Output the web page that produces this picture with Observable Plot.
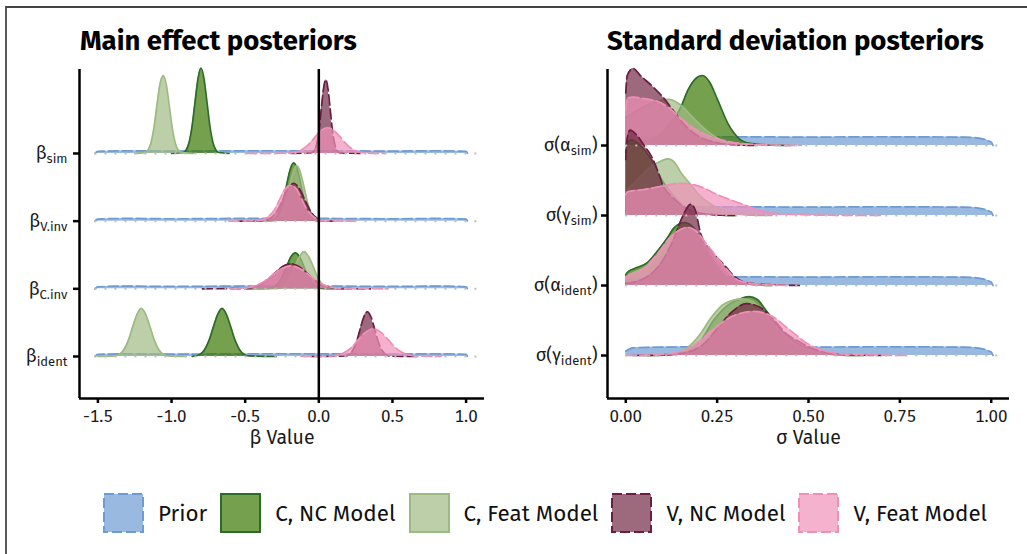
<!DOCTYPE html>
<html>
<head>
<meta charset="utf-8">
<script src="https://cdn.jsdelivr.net/npm/d3@7"></script>
<script src="https://cdn.jsdelivr.net/npm/@observablehq/plot@0.6"></script>
<style>
  html, body { margin: 0; padding: 0; background: #fff; }
  #wrap { position: relative; width: 1027px; height: 554px; overflow: hidden; background: #fff;
          font-family: "Fira Sans", "Open Sans", sans-serif; color: #111; }
  .frame { position: absolute; left: 5px; top: 6px; width: 1100px; height: 600px;
           border-left: 2px solid #5a5a5a; border-top: 2px solid #444; }
  .title { position: absolute; font-weight: 700; font-size: 27.5px; line-height: 1; white-space: nowrap; color: #000; }
  .panel { position: absolute; top: 0; }
  #legend { position: absolute; left: 103px; top: 493px; height: 40px; display: flex; align-items: center; }
  #legend .item { display: flex; align-items: center; margin-right: 13px; }
  #legend svg { display: block; margin-right: 14px; }
  #legend span { font-size: 22.4px; white-space: nowrap; color: #111; }
</style>
</head>
<body>
<div id="wrap">
  <div class="frame"></div>
  <div class="title" style="left:80px;top:27px">Main effect posteriors</div>
  <div class="title" style="left:607px;top:27px">Standard deviation posteriors</div>
  <div class="panel" id="left" style="left:0px"></div>
  <div class="panel" id="right" style="left:500px"></div>
  <div id="legend"></div>
</div>
<script>
// ---------------- data ----------------
const seriesNames  = ["Prior", "C, NC Model", "C, Feat Model", "V, NC Model", "V, Feat Model"];
const seriesFill   = ["#6f9bd3", "#3b7702", "#9fba84", "#742a45", "#f192ba"];
const seriesStroke = ["#6f9bd3", "#2e6b2a", "#9cbb80", "#6b1d42", "#ef8fb8"];
const seriesDash   = ["10,4", null, null, "10,4", "10,4"];

// row labels, top to bottom
const betaLabelMain = ["β", "β", "β", "β"];
const betaLabelSub  = ["sim", "V.inv", "C.inv", "ident"];
const sigmaLabelPre = ["σ(α", "σ(γ", "σ(α", "σ(γ"];
const sigmaLabelSub = ["sim", "sim", "ident", "ident"];
const sigmaLabelPost = [")", ")", ")", ")"];

const betaTicks  = [-1.5, -1.0, -0.5, 0.0, 0.5, 1.0];
const sigmaTicks = [0, 0.25, 0.5, 0.75, 1.0];

// densities: [x, height in row units], rows top -> bottom
const betaPrior = [
  [[-1.52,0],[-1.5,0.03],[-1.3,0.04],[-1.0,0.035],[-0.5,0.04],[0,0.04],[0.5,0.035],[0.8,0.04],[1.0,0.03],[1.01,0]],
  [[-1.52,0],[-1.5,0.03],[-1.3,0.04],[-1.0,0.035],[-0.5,0.04],[0,0.04],[0.5,0.035],[0.8,0.04],[1.0,0.03],[1.01,0]],
  [[-1.52,0],[-1.5,0.03],[-1.3,0.04],[-1.0,0.035],[-0.5,0.04],[0,0.04],[0.5,0.035],[0.8,0.04],[1.0,0.03],[1.01,0]],
  [[-1.52,0],[-1.5,0.03],[-1.3,0.04],[-1.0,0.035],[-0.5,0.04],[0,0.04],[0.5,0.035],[0.8,0.04],[1.0,0.03],[1.01,0]]
];
const betaCNC = [
  [[-1.0,0],[-0.92,0.014],[-0.90,0.055],[-0.88,0.17],[-0.86,0.41],[-0.84,0.77],[-0.82,1.11],[-0.80,1.26],[-0.78,1.11],[-0.76,0.77],[-0.74,0.41],[-0.72,0.17],[-0.70,0.055],[-0.68,0.014],[-0.61,0]],
  [[-0.5,0],[-0.32,0.009],[-0.295,0.038],[-0.27,0.12],[-0.245,0.28],[-0.22,0.52],[-0.195,0.76],[-0.17,0.86],[-0.145,0.76],[-0.12,0.52],[-0.095,0.28],[-0.07,0.12],[-0.045,0.038],[-0.02,0.009],[0.1,0]],
  [[-0.5,0],[-0.34,0.006],[-0.31,0.023],[-0.28,0.07],[-0.25,0.17],[-0.22,0.32],[-0.19,0.47],[-0.16,0.53],[-0.13,0.47],[-0.10,0.32],[-0.07,0.17],[-0.04,0.07],[-0.01,0.023],[0.02,0.006],[0.15,0]],
  [[-0.86,0],[-0.837,0.008],[-0.807,0.031],[-0.777,0.096],[-0.747,0.23],[-0.717,0.43],[-0.687,0.62],[-0.657,0.71],[-0.627,0.62],[-0.597,0.43],[-0.567,0.23],[-0.537,0.096],[-0.507,0.031],[-0.477,0.008],[-0.29,0]]
];
const betaCFeat = [
  [[-1.25,0],[-1.18,0.013],[-1.16,0.05],[-1.14,0.155],[-1.12,0.37],[-1.10,0.70],[-1.08,1.01],[-1.056,1.15],[-1.035,1.01],[-1.015,0.70],[-0.995,0.37],[-0.975,0.155],[-0.955,0.05],[-0.93,0.013],[-0.85,0]],
  [[-0.45,0],[-0.30,0.009],[-0.275,0.036],[-0.25,0.11],[-0.225,0.26],[-0.2,0.5],[-0.175,0.72],[-0.15,0.82],[-0.125,0.72],[-0.1,0.5],[-0.075,0.26],[-0.05,0.11],[-0.025,0.036],[0,0.009],[0.12,0]],
  [[-0.45,0],[-0.28,0.006],[-0.25,0.024],[-0.22,0.074],[-0.19,0.18],[-0.16,0.34],[-0.13,0.48],[-0.10,0.55],[-0.07,0.48],[-0.04,0.34],[-0.01,0.18],[0.02,0.074],[0.05,0.024],[0.08,0.006],[0.2,0]],
  [[-1.5,0],[-1.385,0.008],[-1.355,0.031],[-1.325,0.096],[-1.295,0.23],[-1.265,0.43],[-1.235,0.62],[-1.205,0.71],[-1.175,0.62],[-1.145,0.43],[-1.115,0.23],[-1.085,0.096],[-1.055,0.031],[-1.025,0.008],[-0.9,0]]
];
const betaVNC = [
  [[-0.19,0],[-0.05,0.012],[-0.03,0.05],[-0.013,0.15],[0.002,0.35],[0.017,0.66],[0.032,0.96],[0.047,1.09],[0.062,0.96],[0.077,0.66],[0.092,0.35],[0.107,0.15],[0.122,0.05],[0.14,0.012],[0.28,0]],
  [[-0.55,0],[-0.38,0.006],[-0.345,0.025],[-0.31,0.076],[-0.275,0.18],[-0.24,0.34],[-0.205,0.49],[-0.17,0.56],[-0.135,0.49],[-0.1,0.34],[-0.065,0.18],[-0.03,0.076],[0.005,0.025],[0.04,0.006],[0.1,0]],
  [[-0.79,0],[-0.52,0.004],[-0.465,0.016],[-0.41,0.05],[-0.355,0.12],[-0.30,0.23],[-0.245,0.33],[-0.19,0.37],[-0.135,0.33],[-0.08,0.23],[-0.025,0.12],[0.03,0.05],[0.085,0.016],[0.14,0.004],[0.35,0]],
  [[-0.05,0],[0.18,0.007],[0.205,0.029],[0.23,0.089],[0.255,0.21],[0.28,0.4],[0.305,0.58],[0.33,0.66],[0.355,0.58],[0.38,0.4],[0.405,0.21],[0.43,0.089],[0.455,0.029],[0.48,0.007],[0.68,0]]
];
const betaVFeat = [
  [[-0.49,0],[-0.22,0.005],[-0.165,0.017],[-0.12,0.05],[-0.075,0.12],[-0.03,0.23],[0.015,0.335],[0.06,0.38],[0.105,0.335],[0.15,0.23],[0.195,0.12],[0.24,0.05],[0.285,0.017],[0.33,0.005],[0.45,0]],
  [[-0.61,0],[-0.415,0.006],[-0.38,0.023],[-0.34,0.072],[-0.30,0.17],[-0.265,0.32],[-0.23,0.47],[-0.19,0.53],[-0.15,0.47],[-0.115,0.32],[-0.08,0.17],[-0.04,0.072],[0,0.023],[0.035,0.006],[0.24,0]],
  [[-0.6,0],[-0.55,0.004],[-0.49,0.015],[-0.43,0.046],[-0.37,0.11],[-0.31,0.21],[-0.25,0.30],[-0.19,0.34],[-0.13,0.30],[-0.07,0.21],[-0.01,0.11],[0.05,0.046],[0.11,0.015],[0.17,0.004],[0.47,0]],
  [[-0.12,0],[0.07,0.0045],[0.12,0.018],[0.17,0.055],[0.22,0.13],[0.27,0.25],[0.32,0.36],[0.37,0.41],[0.42,0.36],[0.47,0.25],[0.52,0.13],[0.57,0.055],[0.62,0.018],[0.67,0.0045],[0.83,0]]
];

const sigmaPrior = [
  [[0,0.06],[0.02,0.11],[0.1,0.12],[0.3,0.125],[0.5,0.12],[0.7,0.125],[0.9,0.12],[0.95,0.115],[1.0,0.05],[1.005,0]],
  [[0,0.06],[0.02,0.11],[0.1,0.12],[0.3,0.125],[0.5,0.12],[0.7,0.125],[0.9,0.12],[0.95,0.115],[1.0,0.05],[1.005,0]],
  [[0,0.06],[0.02,0.11],[0.1,0.12],[0.3,0.125],[0.5,0.12],[0.7,0.125],[0.9,0.12],[0.95,0.115],[1.0,0.05],[1.005,0]],
  [[0,0.06],[0.02,0.11],[0.1,0.12],[0.3,0.125],[0.5,0.12],[0.7,0.125],[0.9,0.12],[0.95,0.115],[1.0,0.05],[1.005,0]]
];
const sigmaCNC = [
  [[0,0.02],[0.08,0.1],[0.12,0.3],[0.15,0.54],[0.17,0.79],[0.19,0.95],[0.21,1.0],[0.23,0.9],[0.25,0.67],[0.28,0.31],[0.31,0.1],[0.34,0.03],[0.4,0.005],[0.45,0]],
  [[0,0.9],[0.005,1.05],[0.015,1.08],[0.04,1.0],[0.07,0.8],[0.1,0.5],[0.13,0.28],[0.16,0.13],[0.2,0.04],[0.25,0.01],[0.3,0]],
  [[0,0.15],[0.005,0.19],[0.023,0.24],[0.06,0.33],[0.088,0.5],[0.115,0.69],[0.13,0.81],[0.16,0.9],[0.19,0.8],[0.22,0.5],[0.25,0.25],[0.28,0.1],[0.32,0.03],[0.4,0]],
  [[0.05,0],[0.12,0.01],[0.17,0.07],[0.205,0.21],[0.24,0.5],[0.28,0.72],[0.31,0.8],[0.337,0.84],[0.36,0.8],[0.38,0.67],[0.43,0.33],[0.48,0.14],[0.52,0.04],[0.58,0.01],[0.65,0]]
];
const sigmaCFeat = [
  [[0,0.4],[0.03,0.5],[0.07,0.6],[0.118,0.66],[0.15,0.58],[0.18,0.42],[0.22,0.22],[0.26,0.08],[0.3,0.02],[0.36,0]],
  [[0,0.35],[0.03,0.5],[0.06,0.66],[0.09,0.76],[0.115,0.81],[0.135,0.75],[0.15,0.62],[0.175,0.46],[0.2,0.3],[0.24,0.14],[0.28,0.05],[0.33,0.01],[0.4,0]],
  [[0,0.12],[0.02,0.18],[0.06,0.28],[0.09,0.44],[0.12,0.64],[0.15,0.8],[0.17,0.84],[0.19,0.78],[0.22,0.52],[0.25,0.27],[0.28,0.1],[0.32,0.03],[0.4,0]],
  [[0.05,0],[0.12,0.015],[0.16,0.08],[0.2,0.28],[0.235,0.55],[0.27,0.74],[0.32,0.81],[0.35,0.76],[0.38,0.6],[0.42,0.36],[0.47,0.15],[0.52,0.05],[0.58,0.01],[0.65,0]]
];
const sigmaVNC = [
  [[0,0.75],[0.004,1.0],[0.02,1.1],[0.04,1.0],[0.08,0.81],[0.1,0.7],[0.13,0.5],[0.16,0.3],[0.2,0.13],[0.25,0.04],[0.3,0.01],[0.36,0]],
  [[0,0.8],[0.004,1.1],[0.012,1.22],[0.03,1.15],[0.05,1.0],[0.07,0.85],[0.09,0.6],[0.1,0.45],[0.13,0.25],[0.16,0.12],[0.2,0.04],[0.25,0.01],[0.3,0]],
  [[0,0.03],[0.05,0.1],[0.1,0.35],[0.13,0.65],[0.155,0.98],[0.178,1.16],[0.19,1.08],[0.205,0.74],[0.24,0.46],[0.275,0.26],[0.295,0.14],[0.33,0.04],[0.4,0.01],[0.48,0]],
  [[0.02,0],[0.1,0.01],[0.17,0.05],[0.21,0.15],[0.25,0.38],[0.29,0.62],[0.33,0.74],[0.37,0.68],[0.4,0.54],[0.44,0.31],[0.47,0.21],[0.51,0.1],[0.56,0.03],[0.62,0.01],[0.7,0]]
];
const sigmaVFeat = [
  [[0,0.5],[0.005,0.68],[0.02,0.69],[0.05,0.67],[0.096,0.61],[0.125,0.51],[0.15,0.39],[0.18,0.27],[0.205,0.19],[0.25,0.1],[0.3,0.04],[0.38,0.01],[0.48,0]],
  [[0,0.3],[0.005,0.34],[0.05,0.37],[0.1,0.42],[0.15,0.46],[0.2,0.42],[0.25,0.3],[0.315,0.17],[0.37,0.07],[0.42,0.025],[0.5,0.008],[0.6,0.002],[0.7,0]],
  [[0,0.1],[0.005,0.14],[0.04,0.21],[0.088,0.46],[0.12,0.68],[0.15,0.8],[0.17,0.83],[0.19,0.79],[0.22,0.6],[0.25,0.4],[0.28,0.21],[0.31,0.07],[0.36,0.02],[0.45,0]],
  [[0.0,0],[0.08,0.01],[0.15,0.05],[0.2,0.2],[0.25,0.42],[0.3,0.58],[0.35,0.63],[0.4,0.56],[0.45,0.36],[0.5,0.16],[0.55,0.06],[0.6,0.02],[0.7,0.005],[0.77,0]]
];

// ---------------- drawing ----------------
const FONT = '"Fira Sans", "Open Sans", sans-serif';

function ridgeMarks(curves) {
  const marks = [];
  const nRows = curves[0].length;
  for (let ri = 0; ri < nRows; ri++) {          // top row first, lower rows on top
    const base = nRows - ri;
    curves.forEach((sc, si) => {
      const pts = sc[ri].map(([x, h]) => ({x, y: base + h, y0: base}));
      marks.push(Plot.areaY(pts, {x: "x", y1: "y0", y2: "y", fill: seriesFill[si], fillOpacity: 0.7, curve: "monotone-x"}));
      const lo = {x: "x", y: "y", stroke: seriesStroke[si], strokeWidth: 1.7, curve: "monotone-x"};
      if (seriesDash[si]) lo.strokeDasharray = seriesDash[si];
      marks.push(Plot.line(pts, lo));
    });
  }
  return marks;
}

function panel({curves, xDomain, yDomain, ticks, fmt, labels, xTitle, width, marginLeft, marginRight, dotX, zeroLine, yPad}) {
  const rows = [4, 3, 2, 1];
  const marks = [
    ...ridgeMarks(curves),
    Plot.ruleY(rows, {y: d => d, x1: dotX[0], x2: dotX[1], stroke: "#bdbdbd", strokeWidth: 2, strokeDasharray: "2,8"}),
  ];
  if (zeroLine) marks.push(Plot.ruleX([0], {stroke: "#000", strokeWidth: 2.5}));
  marks.push(
    Plot.ruleY([yDomain[0]], {stroke: "#000", strokeWidth: 2.5}),
    Plot.ruleX([xDomain[0]], {stroke: "#000", strokeWidth: 2.5}),
    Plot.axisX({ticks, tickFormat: fmt, tickSize: 5, tickPadding: 6, fontSize: 17, strokeWidth: 2.5, label: null, stroke: "#000", fill: "#1a1a1a"}),
    Plot.axisY({ticks: rows, tickFormat: d => "row" + d, tickSize: 6, tickPadding: yPad, fontSize: 18, strokeWidth: 2.5, label: null, stroke: "#000", fill: "#1a1a1a"}),
    Plot.text([xTitle], {frameAnchor: "bottom", dy: 45, fontSize: 19.5, fill: "#1a1a1a"})
  );
  const svg = Plot.plot({
    width, height: 460,
    marginLeft, marginRight, marginTop: 69, marginBottom: 62,
    x: {domain: xDomain},
    y: {domain: yDomain},
    style: {fontFamily: FONT, background: "transparent", overflow: "visible"},
    marks
  });
  // rich row labels with subscripts
  d3.select(svg).selectAll('g[aria-label="y-axis tick label"] text').each(function() {
    const t = d3.select(this);
    const m = /row(\d)/.exec(t.text());
    if (!m) return;
    const idx = 4 - (+m[1]);
    const lab = labels[idx];
    t.text(null);
    t.append("tspan").text(lab.pre);
    t.append("tspan").attr("font-size", 13).attr("dy", 4).text(lab.sub);
    if (lab.post) t.append("tspan").attr("dy", -4).text(lab.post);
  });
  return svg;
}

const betaLabels = betaLabelMain.map((p, i) => ({pre: p, sub: betaLabelSub[i], post: ""}));
const sigmaLabels = sigmaLabelPre.map((p, i) => ({pre: p, sub: sigmaLabelSub[i], post: sigmaLabelPost[i]}));

document.getElementById("left").append(panel({
  curves: [betaPrior, betaCNC, betaCFeat, betaVNC, betaVFeat],
  xDomain: [-1.625, 1.125], yDomain: [0.379, 5.241],
  ticks: betaTicks, fmt: d => d.toFixed(1), labels: betaLabels, xTitle: "β Value",
  width: 500, marginLeft: 79, marginRight: 16, dotX: [-1.52, 1.1], zeroLine: true, yPad: 6
}));
document.getElementById("right").append(panel({
  curves: [sigmaPrior, sigmaCNC, sigmaCFeat, sigmaVNC, sigmaVFeat],
  xDomain: [-0.05, 1.05], yDomain: [0.386, 5.086],
  ticks: sigmaTicks, fmt: d => d.toFixed(2), labels: sigmaLabels, xTitle: "σ Value",
  width: 527, marginLeft: 107, marginRight: 18, dotX: [0, 1.04], zeroLine: false, yPad: 4
}));

// legend
const legend = d3.select("#legend");
seriesNames.forEach((name, i) => {
  const item = legend.append("div").attr("class", "item");
  const s = item.append("svg").attr("width", 41).attr("height", 40);
  s.append("rect").attr("x", 1).attr("y", 1).attr("width", 39).attr("height", 38)
    .attr("fill", seriesFill[i]).attr("fill-opacity", 0.7)
    .attr("stroke", seriesStroke[i]).attr("stroke-width", 2)
    .attr("stroke-dasharray", seriesDash[i] || null);
  item.append("span").text(name);
});
</script>
</body>
</html>
